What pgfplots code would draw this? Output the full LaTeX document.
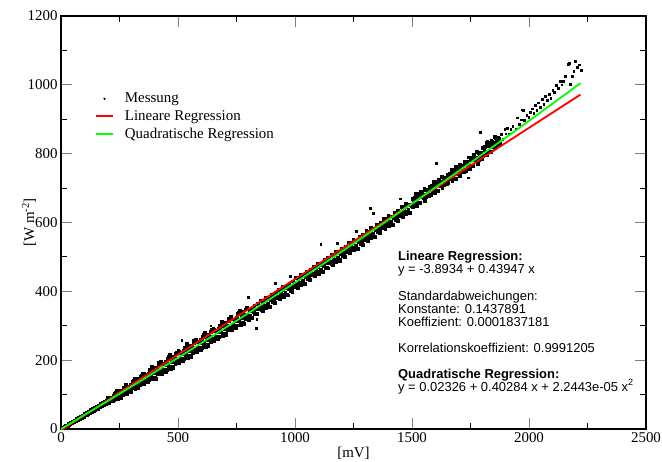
\documentclass[border=0pt]{standalone}
\usepackage{pgfplots}
\pgfplotsset{compat=1.18}
\usepackage{pgfplotstable}
\usepackage{fontspec}
\setmainfont{Liberation Serif}
\newfontfamily\sansf{Liberation Sans}

\pgfplotstableread[row sep=\\]{
x y\\
5 1.5\\ 8 4.2\\ 12 4.0\\ 15 7.1\\ 20 7.0\\ 24 10.8\\ 28 10.5\\ 33 14.9\\ 37 14.0\\ 42 18.5\\ 46 17.2\\ 50 22.3\\ 55 21.0\\ 58 25.6\\ 63 24.2\\ 67 29.5\\ 72 27.0\\ 76 32.8\\ 80 30.6\\ 85 36.5\\ 88 33.4\\ 93 40.1\\ 97 37.1\\ 101 43.9\\ 105 40.6\\ 110 47.8\\ 114 44.2\\ 118 51.5\\ 122 47.0\\ 127 55.9\\ 131 50.8\\ 135 59.0\\ 139 54.3\\ 144 63.4\\ 148 57.8\\ 152 66.0\\ 157 61.2\\ 160 69.5\\ 165 63.5\\ 168 72.8\\ 173 67.2\\ 177 76.9\\ 181 70.0\\ 185 80.1\\ 190 73.2\\ 194 83.4\\ 198 76.5\\
200 92.5\\ 204 75.2\\ 208 90.9\\ 213 82.6\\ 217 90.8\\ 221 81.0\\
225 84.8\\ 229 103.5\\ 233 93.2\\ 238 111.4\\ 242 89.1\\ 246 105.2\\
250 111.1\\ 254 91.8\\ 258 106.5\\ 263 101.1\\ 267 121.4\\ 271 107.5\\
275 127.9\\ 279 103.0\\ 283 124.3\\ 288 111.8\\ 292 122.6\\ 296 108.2\\
300 113.1\\ 304 138.1\\ 308 123.3\\ 313 147.3\\ 317 116.7\\ 321 137.9\\
325 145.3\\ 329 119.0\\ 333 138.3\\ 338 130.1\\ 342 156.6\\ 346 137.5\\
350 162.4\\ 354 131.8\\ 358 157.3\\ 363 141.6\\ 367 154.4\\ 371 136.5\\
375 142.5\\ 379 172.1\\ 383 154.0\\ 388 182.3\\ 392 145.3\\ 396 170.4\\
400 179.7\\ 404 146.4\\ 408 170.1\\ 413 159.3\\ 417 192.0\\ 421 167.7\\
425 197.3\\ 429 161.0\\ 433 190.7\\ 438 171.9\\ 442 186.6\\ 446 165.3\\
450 172.8\\ 454 205.5\\ 458 185.2\\ 463 216.4\\ 467 175.1\\ 471 202.8\\
475 211.4\\ 479 178.1\\ 483 201.8\\ 488 191.0\\ 492 223.7\\ 496 199.4\\
500 229.0\\ 504 192.7\\ 508 222.4\\ 513 203.6\\ 517 218.3\\ 521 197.0\\
525 204.7\\ 529 237.4\\ 533 217.1\\ 538 248.3\\ 542 207.0\\ 546 234.7\\
550 243.4\\ 554 210.1\\ 558 233.8\\ 563 223.0\\ 567 255.7\\ 571 231.4\\
575 261.1\\ 579 224.8\\ 583 254.5\\ 588 235.7\\ 592 250.4\\ 596 229.1\\
600 236.8\\ 604 269.5\\ 608 249.2\\ 613 280.4\\ 617 239.1\\ 621 266.8\\
625 275.5\\ 629 242.2\\ 633 265.9\\ 638 255.1\\ 642 287.8\\ 646 263.5\\
650 293.3\\ 654 257.0\\ 658 286.7\\ 663 267.9\\ 667 282.6\\ 671 261.3\\
675 269.1\\ 679 301.8\\ 683 281.5\\ 688 312.7\\ 692 271.4\\ 696 299.1\\
700 308.0\\ 704 274.7\\ 708 298.4\\ 713 287.6\\ 717 320.3\\ 721 296.0\\
725 325.9\\ 729 289.6\\ 733 319.3\\ 738 300.5\\ 742 315.2\\ 746 293.9\\
750 301.8\\ 754 334.5\\ 758 314.2\\ 763 345.4\\ 767 304.1\\ 771 331.8\\
775 340.7\\ 779 307.4\\ 783 331.1\\ 788 320.3\\ 792 353.0\\ 796 328.7\\
800 318.6\\ 804 346.5\\ 808 330.4\\ 813 344.7\\ 817 322.6\\ 821 341.5\\
825 357.6\\ 829 335.5\\ 833 348.4\\ 838 333.7\\ 842 360.6\\ 846 349.5\\
850 352.6\\ 854 372.5\\ 858 346.4\\ 863 363.7\\ 867 354.6\\ 871 372.5\\
875 351.7\\ 879 379.6\\ 883 363.5\\ 888 377.8\\ 892 355.7\\ 896 374.6\\
900 390.7\\ 904 368.6\\ 908 381.5\\ 913 366.8\\ 917 393.7\\ 921 382.6\\
925 385.8\\ 929 405.7\\ 933 379.6\\ 938 396.9\\ 942 387.8\\ 946 405.7\\
950 385.0\\ 954 412.9\\ 958 396.8\\ 963 411.1\\ 967 389.0\\ 971 407.9\\
975 424.1\\ 979 402.0\\ 983 414.9\\ 988 400.2\\ 992 427.1\\ 996 416.0\\
1000 419.3\\ 1004 439.2\\ 1008 413.1\\ 1013 430.4\\ 1017 421.3\\ 1021 439.2\\
1025 418.5\\ 1029 446.4\\ 1033 430.3\\ 1038 444.6\\ 1042 422.5\\ 1046 441.4\\
1050 457.7\\ 1054 435.6\\ 1058 448.5\\ 1063 433.8\\ 1067 460.7\\ 1071 449.6\\
1075 453.0\\ 1079 472.9\\ 1083 446.8\\ 1088 464.1\\ 1092 455.0\\ 1096 472.9\\
1100 452.3\\ 1104 480.2\\ 1108 464.1\\ 1113 478.4\\ 1117 456.3\\ 1121 475.2\\
1125 491.6\\ 1129 469.5\\ 1133 482.4\\ 1138 467.7\\ 1142 494.6\\ 1146 483.5\\
1150 487.0\\ 1154 506.9\\ 1158 480.8\\ 1163 498.1\\ 1167 489.0\\ 1171 506.9\\
1175 486.3\\ 1179 514.2\\ 1183 498.1\\ 1188 512.4\\ 1192 490.3\\ 1196 509.2\\
1200 525.7\\ 1204 503.6\\ 1208 516.5\\ 1213 501.8\\ 1217 528.7\\ 1221 517.6\\
1225 521.2\\ 1229 541.1\\ 1233 515.0\\ 1238 532.3\\ 1242 523.2\\ 1246 541.1\\
1250 520.6\\ 1254 548.5\\ 1258 532.4\\ 1263 546.7\\ 1267 524.6\\ 1271 543.5\\
1275 560.1\\ 1279 538.0\\ 1283 550.9\\ 1288 536.2\\ 1292 563.1\\ 1296 552.0\\
1300 555.6\\ 1304 575.5\\ 1308 549.4\\ 1313 566.7\\ 1317 557.6\\ 1321 575.5\\
1325 555.2\\ 1329 583.1\\ 1333 567.0\\ 1338 581.3\\ 1342 559.2\\ 1346 578.1\\
1350 594.7\\ 1354 572.6\\ 1358 585.5\\ 1363 570.8\\ 1367 597.7\\ 1371 586.6\\
1375 590.3\\ 1379 610.2\\ 1383 584.1\\ 1388 601.4\\ 1392 592.3\\ 1396 610.2\\
1400 590.0\\ 1404 617.9\\ 1408 601.8\\ 1413 616.1\\ 1417 594.0\\ 1421 612.9\\
1425 629.6\\ 1429 607.5\\ 1433 620.4\\ 1438 605.7\\ 1442 632.6\\ 1446 621.5\\
1450 625.3\\ 1454 645.2\\ 1458 619.1\\ 1463 636.4\\ 1467 627.3\\ 1471 645.2\\
1475 625.0\\ 1479 652.9\\ 1483 636.8\\ 1488 651.1\\ 1492 629.0\\ 1496 647.9\\
1500 669.8\\ 1504 644.8\\ 1508 663.7\\ 1513 656.1\\ 1517 683.1\\ 1521 650.0\\
1525 658.5\\ 1529 678.5\\ 1533 656.4\\ 1538 690.8\\ 1542 674.8\\ 1546 682.7\\
1550 681.3\\ 1554 664.3\\ 1558 694.2\\ 1563 682.6\\ 1567 694.6\\ 1571 678.5\\
1575 705.1\\ 1579 680.1\\ 1583 699.0\\ 1588 691.4\\ 1592 718.4\\ 1596 685.3\\
1600 694.0\\ 1604 714.0\\ 1608 691.9\\ 1613 726.3\\ 1617 710.3\\ 1621 718.2\\
1625 716.9\\ 1629 699.9\\ 1633 729.8\\ 1638 718.2\\ 1642 730.2\\ 1646 714.1\\
1650 740.8\\ 1654 715.8\\ 1658 734.7\\ 1663 727.1\\ 1667 754.1\\ 1671 721.0\\
1675 729.7\\ 1679 749.7\\ 1683 727.6\\ 1688 762.0\\ 1692 746.0\\ 1696 753.9\\
1700 752.7\\ 1704 735.7\\ 1708 765.6\\ 1713 754.0\\ 1717 766.0\\ 1721 749.9\\
1725 776.7\\ 1729 751.7\\ 1733 770.6\\ 1738 763.0\\ 1742 790.0\\ 1746 756.9\\
1750 765.7\\ 1754 785.7\\ 1758 763.6\\ 1763 798.0\\ 1767 782.0\\ 1771 789.9\\
1775 788.8\\ 1779 771.8\\ 1783 801.7\\ 1788 790.1\\ 1792 802.1\\ 1796 786.0\\
1800 817.8\\ 1804 792.8\\ 1808 811.7\\ 1813 804.1\\ 1817 831.1\\ 1821 798.0\\
1825 806.9\\ 1829 826.9\\ 1833 804.8\\ 1838 839.2\\ 1842 823.2\\ 1846 831.1\\
1850 833.1\\ 1854 816.1\\ 1858 846.0\\ 1863 834.4\\ 1867 846.4\\ 1871 830.3\\
}\band

\pgfplotstableread[row sep=\\]{
x y\\
3 0.5\\ 18 8.8\\ 31 11.9\\ 40 17.5\\ 53 20.0\\ 61 26.0\\ 70 27.5\\ 78 33.5\\ 90 35.0\\ 99 41.5\\ 108 42.5\\ 116 49.5\\ 125 49.0\\ 133 56.5\\ 142 55.0\\ 150 62.5\\ 155 60.0\\ 163 68.0\\ 170 66.5\\ 179 75.0\\ 187 73.5\\ 196 81.0\\
202 91.4\\ 210 82.8\\ 215 81.0\\ 223 96.5\\ 227 97.1\\ 235 107.1\\ 240 91.7\\ 248 101.8\\
252 93.0\\ 260 108.8\\ 265 118.2\\ 273 107.3\\ 277 126.0\\ 285 112.6\\ 290 109.2\\ 298 129.5\\
302 129.8\\ 310 142.2\\ 315 120.4\\ 323 132.9\\ 327 120.6\\ 335 140.8\\ 340 152.6\\ 348 136.9\\
352 159.9\\ 360 142.9\\ 365 138.3\\ 373 162.2\\ 377 162.3\\ 385 176.5\\ 390 149.9\\ 398 164.2\\
402 148.6\\ 410 173.0\\ 415 187.2\\ 423 166.7\\ 427 194.2\\ 435 173.6\\ 440 167.8\\ 448 195.3\\
452 194.7\\ 460 210.1\\ 465 180.3\\ 473 195.8\\ 477 180.3\\ 485 204.7\\ 490 218.9\\ 498 198.4\\
502 225.9\\ 510 205.3\\ 515 199.5\\ 523 227.0\\ 527 226.6\\ 535 242.0\\ 540 212.2\\ 548 227.7\\
552 212.3\\ 560 236.7\\ 565 250.9\\ 573 230.4\\ 577 258.0\\ 585 237.4\\ 590 231.6\\ 598 259.1\\
602 258.7\\ 610 274.1\\ 615 244.3\\ 623 259.8\\ 627 244.4\\ 635 268.8\\ 640 283.0\\ 648 262.5\\
652 290.2\\ 660 269.6\\ 665 263.8\\ 673 291.3\\ 677 291.0\\ 685 306.4\\ 690 276.6\\ 698 292.1\\
702 276.9\\ 710 301.3\\ 715 315.5\\ 723 295.0\\ 727 322.8\\ 735 302.2\\ 740 296.4\\ 748 323.9\\
752 323.7\\ 760 339.1\\ 765 309.3\\ 773 324.8\\ 777 309.6\\ 785 334.0\\ 790 348.2\\ 798 327.7\\
802 324.5\\ 810 346.2\\ 815 323.5\\ 823 345.2\\ 827 351.5\\ 835 336.2\\ 840 363.5\\ 848 348.2\\
852 352.5\\ 860 344.2\\ 865 371.5\\ 873 381.2\\ 877 357.6\\ 885 379.3\\ 890 356.6\\ 898 378.3\\
902 384.6\\ 910 369.3\\ 915 396.6\\ 923 381.3\\ 927 385.7\\ 935 377.4\\ 940 404.7\\ 948 414.4\\
952 390.9\\ 960 412.6\\ 965 389.9\\ 973 411.6\\ 977 418.0\\ 985 402.7\\ 990 430.0\\ 998 414.7\\
1002 419.2\\ 1010 410.9\\ 1015 438.2\\ 1023 447.9\\ 1027 424.4\\ 1035 446.1\\ 1040 423.4\\ 1048 445.1\\
1052 451.6\\ 1060 436.3\\ 1065 463.6\\ 1073 448.3\\ 1077 452.9\\ 1085 444.6\\ 1090 471.9\\ 1098 481.6\\
1102 458.2\\ 1110 479.9\\ 1115 457.2\\ 1123 478.9\\ 1127 485.5\\ 1135 470.2\\ 1140 497.5\\ 1148 482.2\\
1152 486.9\\ 1160 478.6\\ 1165 505.9\\ 1173 515.6\\ 1177 492.2\\ 1185 513.9\\ 1190 491.2\\ 1198 512.9\\
1202 519.6\\ 1210 504.3\\ 1215 531.6\\ 1223 516.3\\ 1227 521.1\\ 1235 512.8\\ 1240 540.1\\ 1248 549.8\\
1252 526.5\\ 1260 548.2\\ 1265 525.5\\ 1273 547.2\\ 1277 554.0\\ 1285 538.7\\ 1290 566.0\\ 1298 550.7\\
1302 555.5\\ 1310 547.2\\ 1315 574.5\\ 1323 584.2\\ 1327 561.1\\ 1335 582.8\\ 1340 560.1\\ 1348 581.8\\
1352 588.6\\ 1360 573.3\\ 1365 600.6\\ 1373 585.3\\ 1377 590.2\\ 1385 581.9\\ 1390 609.2\\ 1398 618.9\\
1402 595.9\\ 1410 617.6\\ 1415 594.9\\ 1423 616.6\\ 1427 623.5\\ 1435 608.2\\ 1440 635.5\\ 1448 620.2\\
1452 625.2\\ 1460 616.9\\ 1465 644.2\\ 1473 653.9\\ 1477 630.9\\ 1485 652.6\\ 1490 629.9\\ 1498 651.6\\
1502 645.8\\ 1510 671.7\\ 1515 659.1\\ 1523 683.0\\ 1527 674.5\\ 1535 657.4\\ 1540 687.8\\ 1548 671.7\\
1552 698.3\\ 1560 675.2\\ 1565 687.6\\ 1573 676.5\\ 1577 681.1\\ 1585 707.0\\ 1590 694.4\\ 1598 718.3\\
1602 710.0\\ 1610 692.9\\ 1615 723.3\\ 1623 707.2\\ 1627 733.9\\ 1635 710.8\\ 1640 723.2\\ 1648 712.1\\
1652 716.8\\ 1660 742.7\\ 1665 730.1\\ 1673 754.0\\ 1677 745.7\\ 1685 728.6\\ 1690 759.0\\ 1698 742.9\\
1702 769.7\\ 1710 746.6\\ 1715 759.0\\ 1723 747.9\\ 1727 752.7\\ 1735 778.6\\ 1740 766.0\\ 1748 789.9\\
1752 781.7\\ 1760 764.6\\ 1765 795.0\\ 1773 778.9\\ 1777 805.8\\ 1785 782.7\\ 1790 795.1\\ 1798 784.0\\
1802 793.8\\ 1810 819.7\\ 1815 807.1\\ 1823 831.0\\ 1827 822.9\\ 1835 805.8\\ 1840 836.2\\ 1848 820.1\\
1852 850.1\\ 1860 827.0\\ 1865 839.4\\ 1873 828.3\\
}\bandb

\pgfplotstableread[row sep=\\]{
x y\\
1875 845.2\\ 1882 857.7\\ 1888 842.5\\ 1896 872.2\\
1900 858.4\\ 1907 874.9\\ 1914 858.4\\ 1921 871.4\\
1930 880.0\\ 1942 872.5\\ 1950 905.0\\ 1958 886.0\\ 1966 899.5\\ 1975 927.0\\
1980 897.0\\ 1990 912.3\\ 1998 905.6\\ 2005 921.4\\ 2012 931.0\\ 2020 918.0\\
2026 940.5\\ 2033 926.2\\ 2040 948.8\\ 2048 935.5\\ 2055 959.0\\ 2062 944.0\\
2070 966.5\\ 2077 956.0\\ 2085 972.8\\ 2092 962.0\\ 2100 985.0\\ 2108 978.2\\
2115 998.6\\ 2124 990.0\\ 2132 1010.4\\ 2140 1001.0\\ 2145 1011.0\\ 2155 1024.5\\
2167 1061.0\\ 2171 1063.0\\ 2175 1002.0\\ 2184 1026.0\\ 2190 1040.6\\ 2197 1069.0\\
2205 1052.0\\ 2214 1058.5\\ 2222 1043.0\\
1790 862.0\\ 1603 773.0\\ 1321 642.0\\ 1335 628.0\\ 1261 575.0\\ 1110 537.0\\
800 384.0\\ 833 293.0\\ 516 259.0\\ 836 319.6\\ 915 424.0\\ 1741 731.0\\
1822 837.0\\ 1969 928.0\\ 1450 670.0\\ 1180 540.0\\ 640 300.0\\ 980 445.0\\
}\sparse

\pgfplotstableread[row sep=\\]{
x y\\
0 -3.8934\\ 2220 971.73\\
}\linreg

\pgfplotstableread[row sep=\\]{
x y\\
0 0.02\\ 250 102.11\\ 500 207.03\\ 750 314.75\\ 1000 425.28\\ 1250 538.62\\
1500 654.76\\ 1750 773.70\\ 2000 895.45\\ 2220 1004.93\\
}\quadreg

\begin{document}
\begin{tikzpicture}
\begin{axis}[
  scale only axis,
  width=585bp, height=413bp,
  xmin=0, xmax=2500, ymin=0, ymax=1200,
  clip marker paths=true,
  xtick={0,500,...,2500}, ytick={0,200,...,1200},
  minor x tick num=1, minor y tick num=1,
  tick align=inside, tick pos=both,
  major tick length=11bp, minor tick length=6bp,
  every major tick/.append style={black!50, line width=1bp},
  every minor tick/.append style={black, line width=1bp},
  axis line style={line width=1.5bp, black},
  /pgf/number format/assume math mode=true,
  /pgf/number format/1000 sep={},
  tick label style={font=\fontsize{15}{15}\selectfont},
  xlabel={[mV]}, ylabel={[W m\textsuperscript{-2}]},
  label style={font=\fontsize{15}{15}\selectfont},
  xlabel style={at={(rel axis cs:0.5,-0.058)}, anchor=center},
  ylabel style={at={(rel axis cs:-0.0547,0.5)}, anchor=center},
  legend style={at={(rel axis cs:0.058,0.8184)}, anchor=north west, draw=none, fill=none,
    font=\fontsize{15}{15}\selectfont, inner sep=0pt, row sep=2bp,
    nodes={inner sep=2bp}},
  legend cell align=left,
]
\addplot[only marks, mark=square*, mark size=1.4bp, mark options={black, line width=0.2bp},
  legend image code/.code={\fill[black] (0.3cm,0cm) circle (0.9bp);}] table {\band};
\addlegendentry{\hspace{9bp}Messung}
\addplot[only marks, mark=square*, mark size=1.4bp, mark options={black, line width=0.2bp}, forget plot] table {\bandb};
\addplot[only marks, mark=square*, mark size=0.8bp, mark options={black, line width=0.2bp}, forget plot] table {\sparse};
\addplot[red, line width=1.8bp] table {\linreg};
\addlegendentry{\hspace{9bp}Lineare Regression}
\addplot[green, line width=1.8bp, smooth] table {\quadreg};
\addlegendentry{\hspace{9bp}Quadratische Regression}

\node[anchor=base west, inner sep=0pt, font=\sansf\bfseries\fontsize{13}{13}\selectfont] at (axis cs:1440,489.0) {Lineare Regression:};
\node[anchor=base west, inner sep=0pt, font=\sansf\fontsize{13}{13}\selectfont] at (axis cs:1440,451.2) {y = -3.8934 + 0.43947 x};
\node[anchor=base west, inner sep=0pt, font=\sansf\fontsize{13}{13}\selectfont] at (axis cs:1440,372.8) {Standardabweichungen:};
\node[anchor=base west, inner sep=0pt, font=\sansf\fontsize{13}{13}\selectfont] at (axis cs:1440,335.0) {Konstante: 0.1437891};
\node[anchor=base west, inner sep=0pt, font=\sansf\fontsize{13}{13}\selectfont] at (axis cs:1440,297.2) {Koeffizient: 0.0001837181};
\node[anchor=base west, inner sep=0pt, font=\sansf\fontsize{13}{13}\selectfont] at (axis cs:1440,221.7) {Korrelationskoeffizient: 0.9991205};
\node[anchor=base west, inner sep=0pt, font=\sansf\bfseries\fontsize{13}{13}\selectfont] at (axis cs:1440,146.2) {Quadratische Regression:};
\node[anchor=base west, inner sep=0pt, font=\sansf\fontsize{13}{13}\selectfont] at (axis cs:1440,108.4) {y = 0.02326 + 0.40284 x + 2.2443e-05 x\raisebox{2bp}{\textsuperscript{2}}};
\end{axis}
\pgfresetboundingbox
\path ([shift={(-61bp,-33bp)}]current axis.south west) rectangle ([shift={(16bp,16bp)}]current axis.north east);
\end{tikzpicture}
\end{document}
